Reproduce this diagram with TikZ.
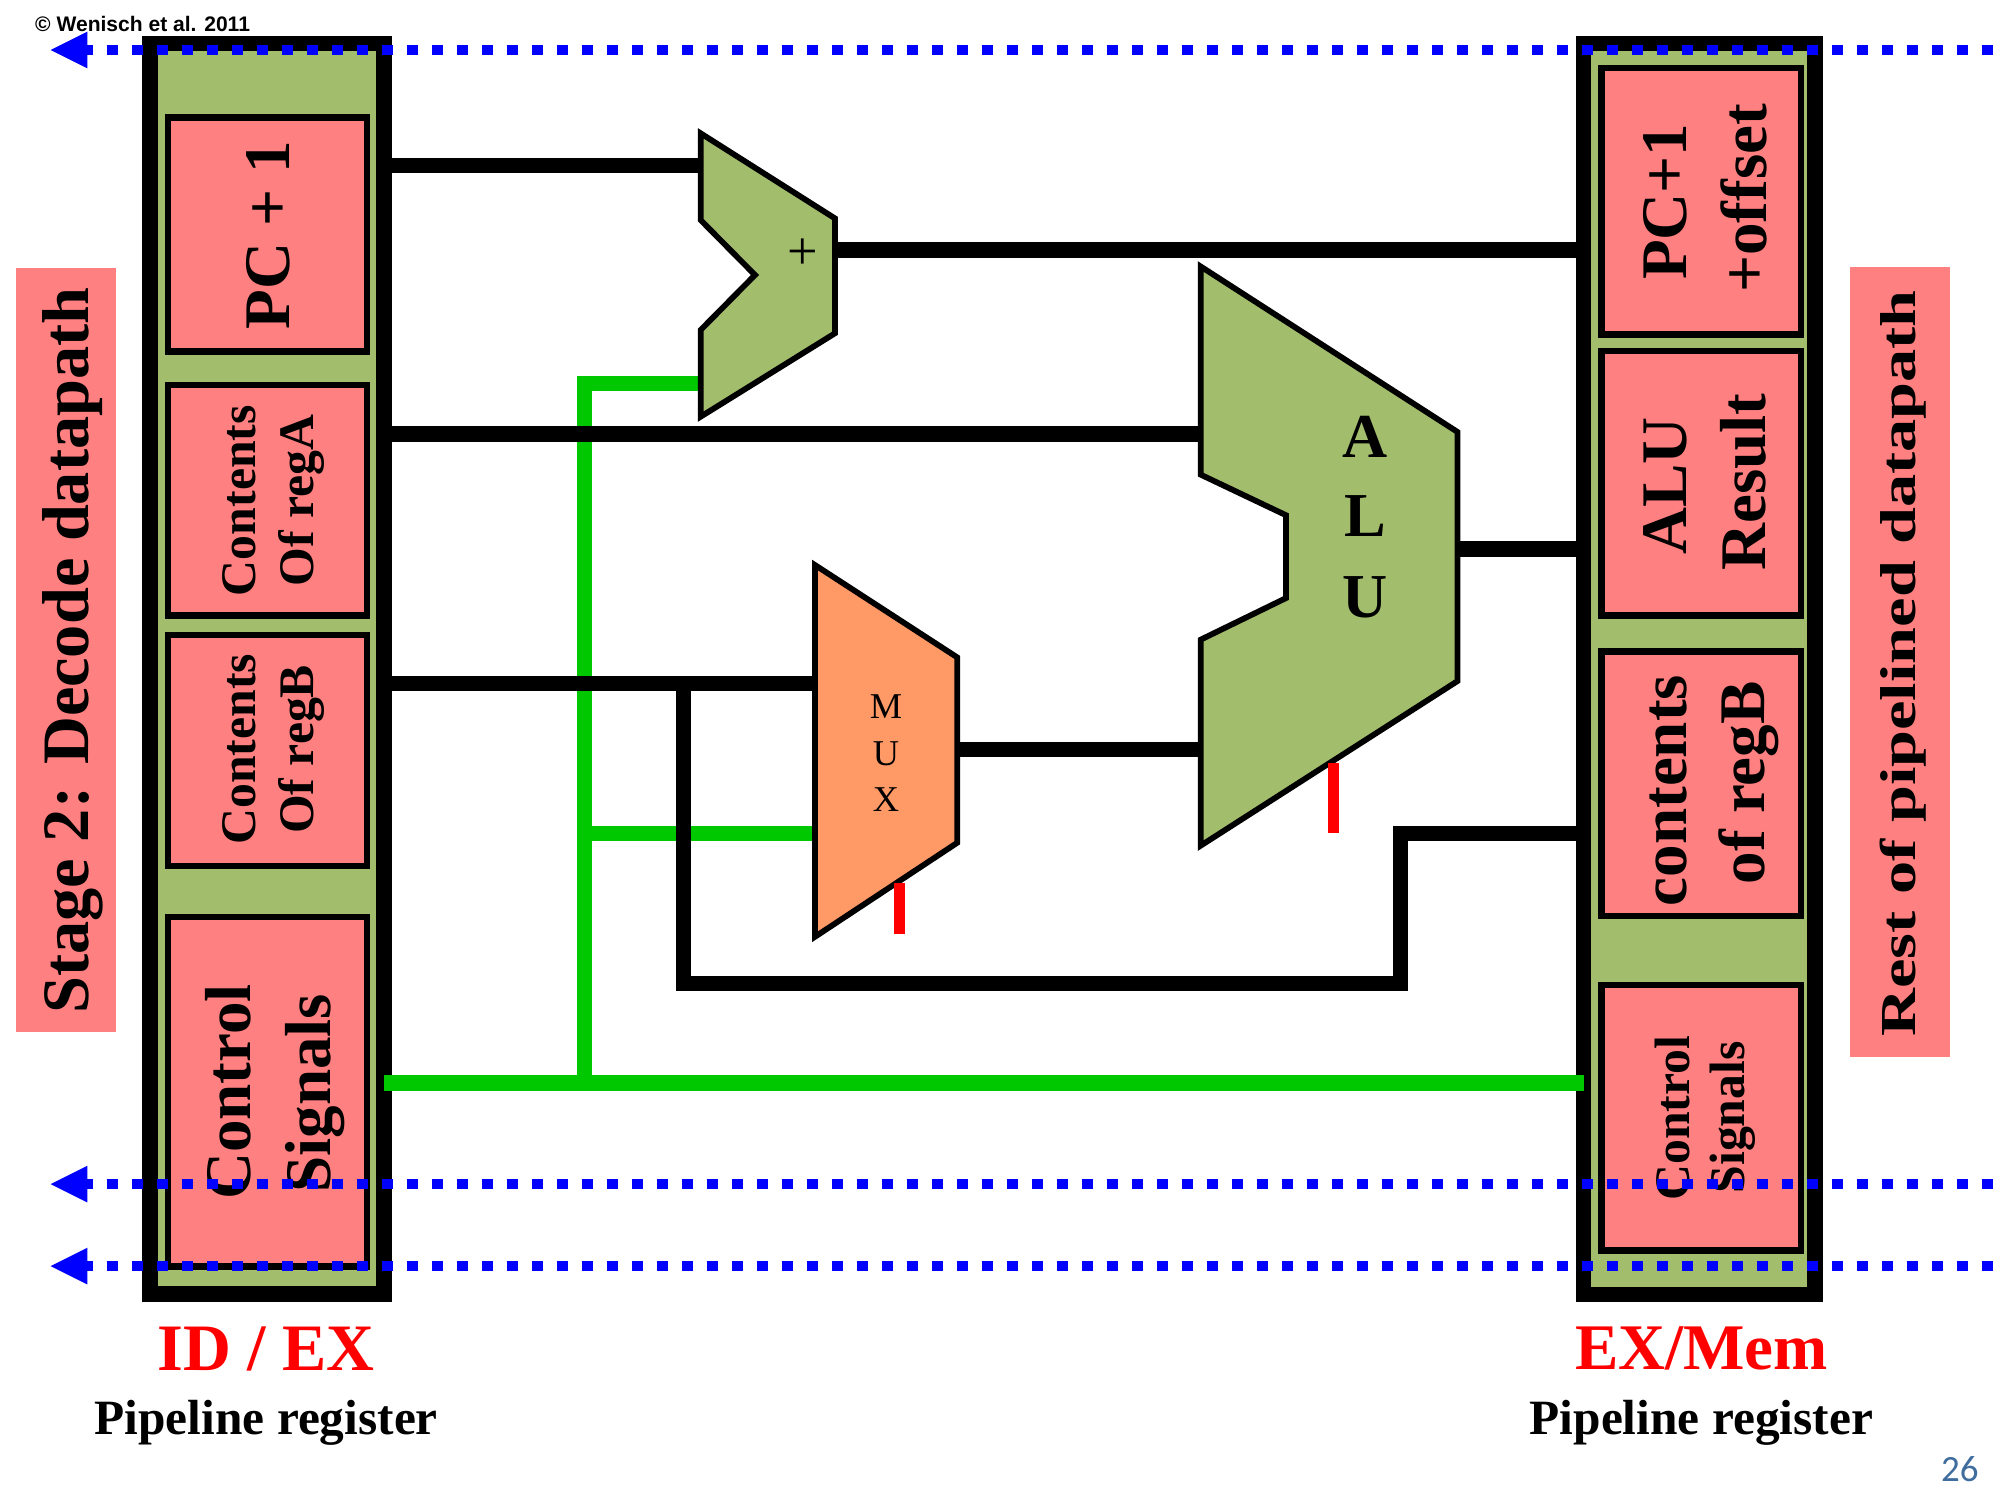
\documentclass[tikz,border=0pt]{standalone}
\usepackage{fontspec}
\setmainfont{Liberation Serif}
\newfontfamily\arialfont{Liberation Sans}
\newfontfamily\calfont{Carlito}
\definecolor{regGreen}{RGB}{162,189,108}
\definecolor{cellPink}{RGB}{255,128,128}
\definecolor{muxOrange}{RGB}{255,153,102}
\definecolor{ctlGreen}{RGB}{0,200,0}
\definecolor{pageBlue}{RGB}{62,109,158}
\begin{document}
\begin{tikzpicture}[x=1pt,y=-1pt,
  reg/.style={draw=black, line width=12pt, fill=regGreen, inner sep=0pt, outer sep=0pt},
  cell/.style={draw=black, line width=5pt, fill=cellPink, inner sep=0pt, outer sep=0pt},
  labelbox/.style={fill=cellPink, inner sep=0pt, outer sep=0pt},
  wire/.style={draw=black, line width=12pt, line join=miter, line cap=butt},
  gwire/.style={draw=ctlGreen, line width=12pt, line join=miter, line cap=butt},
  unitshape/.style={draw=black, line width=4.5pt, line join=miter},
  tickmark/.style={draw=red, line width=9pt},
  bus/.style={draw=blue, line width=8.3pt, dash pattern=on 9.2pt off 10.4pt},
  vtext/.style={rotate=90, anchor=base, inner sep=0pt},
  bigfont/.style={font=\bfseries\fontsize{51}{60}\selectfont},
  midfont/.style={font=\bfseries\fontsize{39}{46}\selectfont},
  unitletter/.style={inner sep=0pt, font=\bfseries\fontsize{49}{56}\selectfont},
  muxletter/.style={inner sep=0pt, font=\fontsize{28.5}{32}\selectfont}
]
\useasboundingbox (0,0) rectangle (1568,1176);
\fill[white] (0,0) rectangle (1568,1176);

% side labels
\node[labelbox, minimum width=78.5pt, minimum height=599pt] (stagebox) at (51.75,509.5) {};
\node[vtext, font=\bfseries\fontsize{52}{60}\selectfont] (stage) at (69.5,510) {Stage 2: Decode datapath};
\node[labelbox, minimum width=78.4pt, minimum height=620pt] (restbox) at (1489.6,519) {};
\node[vtext, yscale=0.76, font=\bfseries\fontsize{52}{60}\selectfont] (rest) at (1502,520) {Rest of pipelined datapath};

% pipeline registers
\node[reg, minimum width=183.4pt, minimum height=980.3pt] (idex) at (209.3,524.35) {};
\node[reg, minimum width=181.4pt, minimum height=980.8pt] (exmem) at (1332.3,524.6) {};

% ID/EX cells
\node[cell, minimum width=156pt, minimum height=183.5pt] (c1) at (209.5,183.75) {};
\node[cell, minimum width=156pt, minimum height=180.5pt] (c2) at (209.5,392.25) {};
\node[cell, minimum width=156pt, minimum height=181pt] (c3) at (209.5,588.5) {};
\node[cell, minimum width=156pt, minimum height=274pt] (c4) at (209.5,856) {};
\node[vtext, bigfont] (t1) at (227,184.4) {PC + 1};
\node[vtext, midfont] (t2a) at (200,392.5) {Contents};
\node[vtext, midfont] (t2b) at (246,392.5) {Of regA};
\node[vtext, midfont] (t3a) at (200,587.5) {Contents};
\node[vtext, midfont] (t3b) at (246,587.5) {Of regB};
\node[vtext, bigfont] (t4a) at (196,856) {Control};
\node[vtext, bigfont] (t4b) at (259,857) {Signals};

% EX/Mem cells
\node[cell, minimum width=156.5pt, minimum height=208.9pt] (d1) at (1333.75,157.85) {};
\node[cell, minimum width=156.5pt, minimum height=207.1pt] (d2) at (1333.75,378.95) {};
\node[cell, minimum width=156.5pt, minimum height=207.5pt] (d3) at (1333.75,614.55) {};
\node[cell, minimum width=156.5pt, minimum height=208.5pt] (d4) at (1333.75,876.25) {};
\node[vtext, bigfont] (u1a) at (1322,158.2) {PC+1};
\node[vtext, bigfont] (u1b) at (1385,155.6) {+offset};
\node[vtext, bigfont] (u2a) at (1322,381) {ALU};
\node[vtext, bigfont] (u2b) at (1384,378) {Result};
\node[vtext, bigfont] (u3a) at (1322,619.8) {contents};
\node[vtext, bigfont] (u3b) at (1383,613.8) {of regB};
\node[vtext, midfont] (u4a) at (1324.8,876.7) {Control};
\node[vtext, midfont] (u4b) at (1368,876) {Signals};

% ports and bends
\coordinate (addA) at (549.3,130);
\coordinate (addB) at (549.3,300.8);
\coordinate (addO) at (654.6,196);
\coordinate (aluA) at (941.3,340.2);
\coordinate (aluB) at (941.3,587.5);
\coordinate (aluO) at (1138,430.5);
\coordinate (muxA) at (639,536);
\coordinate (muxS) at (639,653.3);
\coordinate (muxO) at (746,587.5);
\coordinate (jB) at (536,536);
\coordinate (lp1) at (536,771);
\coordinate (lp2) at (1098,771);
\coordinate (lp3) at (1098,653.5);
\coordinate (ctlY) at (458,849);
\coordinate (g1) at (458,300.8);
\coordinate (g2) at (458,653.3);

% control (green) wires
\draw[gwire] (ctlY -| idex.east) -- (ctlY -| exmem.west);
\draw[gwire] (ctlY) -- (g1) -- (addB);
\draw[gwire] (g2) -- (muxS);

% data wires
\draw[wire] (addA -| idex.east) -- (addA);
\draw[wire] (addO) -- (addO -| exmem.west);
\draw[wire] (aluA -| idex.east) -- (aluA);
\draw[wire] (muxA -| idex.east) -- (muxA);
\draw[wire] (jB) -- (lp1) -- (lp2) -- (lp3) -- (lp3 -| exmem.west);
\draw[wire] (muxO) -- (aluB);
\draw[wire] (aluO) -- (aluO -| exmem.west);

% adder
\draw[unitshape, fill=regGreen] (549.3,104.5) -- (654.6,171.2) -- (654.6,261.3) -- (549.3,326.7)
  -- (549.3,258.7) -- (591.9,215.6) -- (549.3,172.5) -- cycle;
\node[inner sep=0pt] (plus) at (629.3,199) {\fontsize{34}{40}\selectfont\scalebox{1.25}{+}};

% ALU
\draw[unitshape, fill=regGreen] (941.3,208.9) -- (1142.6,338.6) -- (1142.6,534) -- (941.3,663)
  -- (941.3,501.5) -- (1008.2,468.9) -- (1008.2,403.9) -- (941.3,372.1) -- cycle;
\node[unitletter] (la) at (1070.2,342.8) {A};
\node[unitletter] (ll) at (1070.2,404.6) {L};
\node[unitletter] (lu) at (1070.2,468) {U};
\draw[tickmark] (1045.4,598) -- (1045.4,653);

% MUX
\draw[unitshape, fill=muxOrange] (639,443) -- (750.5,515.4) -- (750.5,660.7) -- (639,734.4) -- cycle;
\node[muxletter] (mm) at (694.6,554) {M};
\node[muxletter] (mu) at (694.6,591) {U};
\node[muxletter] (mx) at (694.6,626.5) {X};
\draw[tickmark] (705,692.5) -- (705,732);

% dotted buses with arrowheads
\foreach \i/\yy in {1/39.2, 2/928.3, 3/992.6} {
  \coordinate (bl\i) at (64,\yy);
  \coordinate (br\i) at (1568,\yy);
  \coordinate (bt\i) at (39.7,\yy);
  \draw[bus] (bl\i) -- (br\i);
  \fill[blue] (bt\i) -- ++(28.8,-14.4) -- ++(0,28.8) -- cycle;
}

% captions
\node[anchor=base, inner sep=0pt, text=red, font=\bfseries\fontsize{52}{60}\selectfont] (idexlbl) at (208.5,1074.6) {ID / EX};
\node[anchor=base, inner sep=0pt, font=\bfseries\fontsize{38.7}{44}\selectfont] (idexsub) at (208.7,1124.5) {Pipeline register};
\node[anchor=base, inner sep=0pt, text=red, font=\bfseries\fontsize{51}{60}\selectfont] (exmemlbl) at (1334,1073.5) {EX/Mem};
\node[anchor=base, inner sep=0pt, font=\bfseries\fontsize{38.7}{44}\selectfont] (exmemsub) at (1333.8,1124.6) {Pipeline register};
\node[anchor=base west, inner sep=0pt, font=\arialfont\bfseries\fontsize{16.5}{19}\selectfont] (copy) at (27.4,24.8) {© Wenisch et al. 2011};
\node[anchor=base, inner sep=0pt, text=pageBlue, font=\calfont\fontsize{29}{34}\selectfont] (pgno) at (1536.5,1161.7) {26};
\end{tikzpicture}
\end{document}
